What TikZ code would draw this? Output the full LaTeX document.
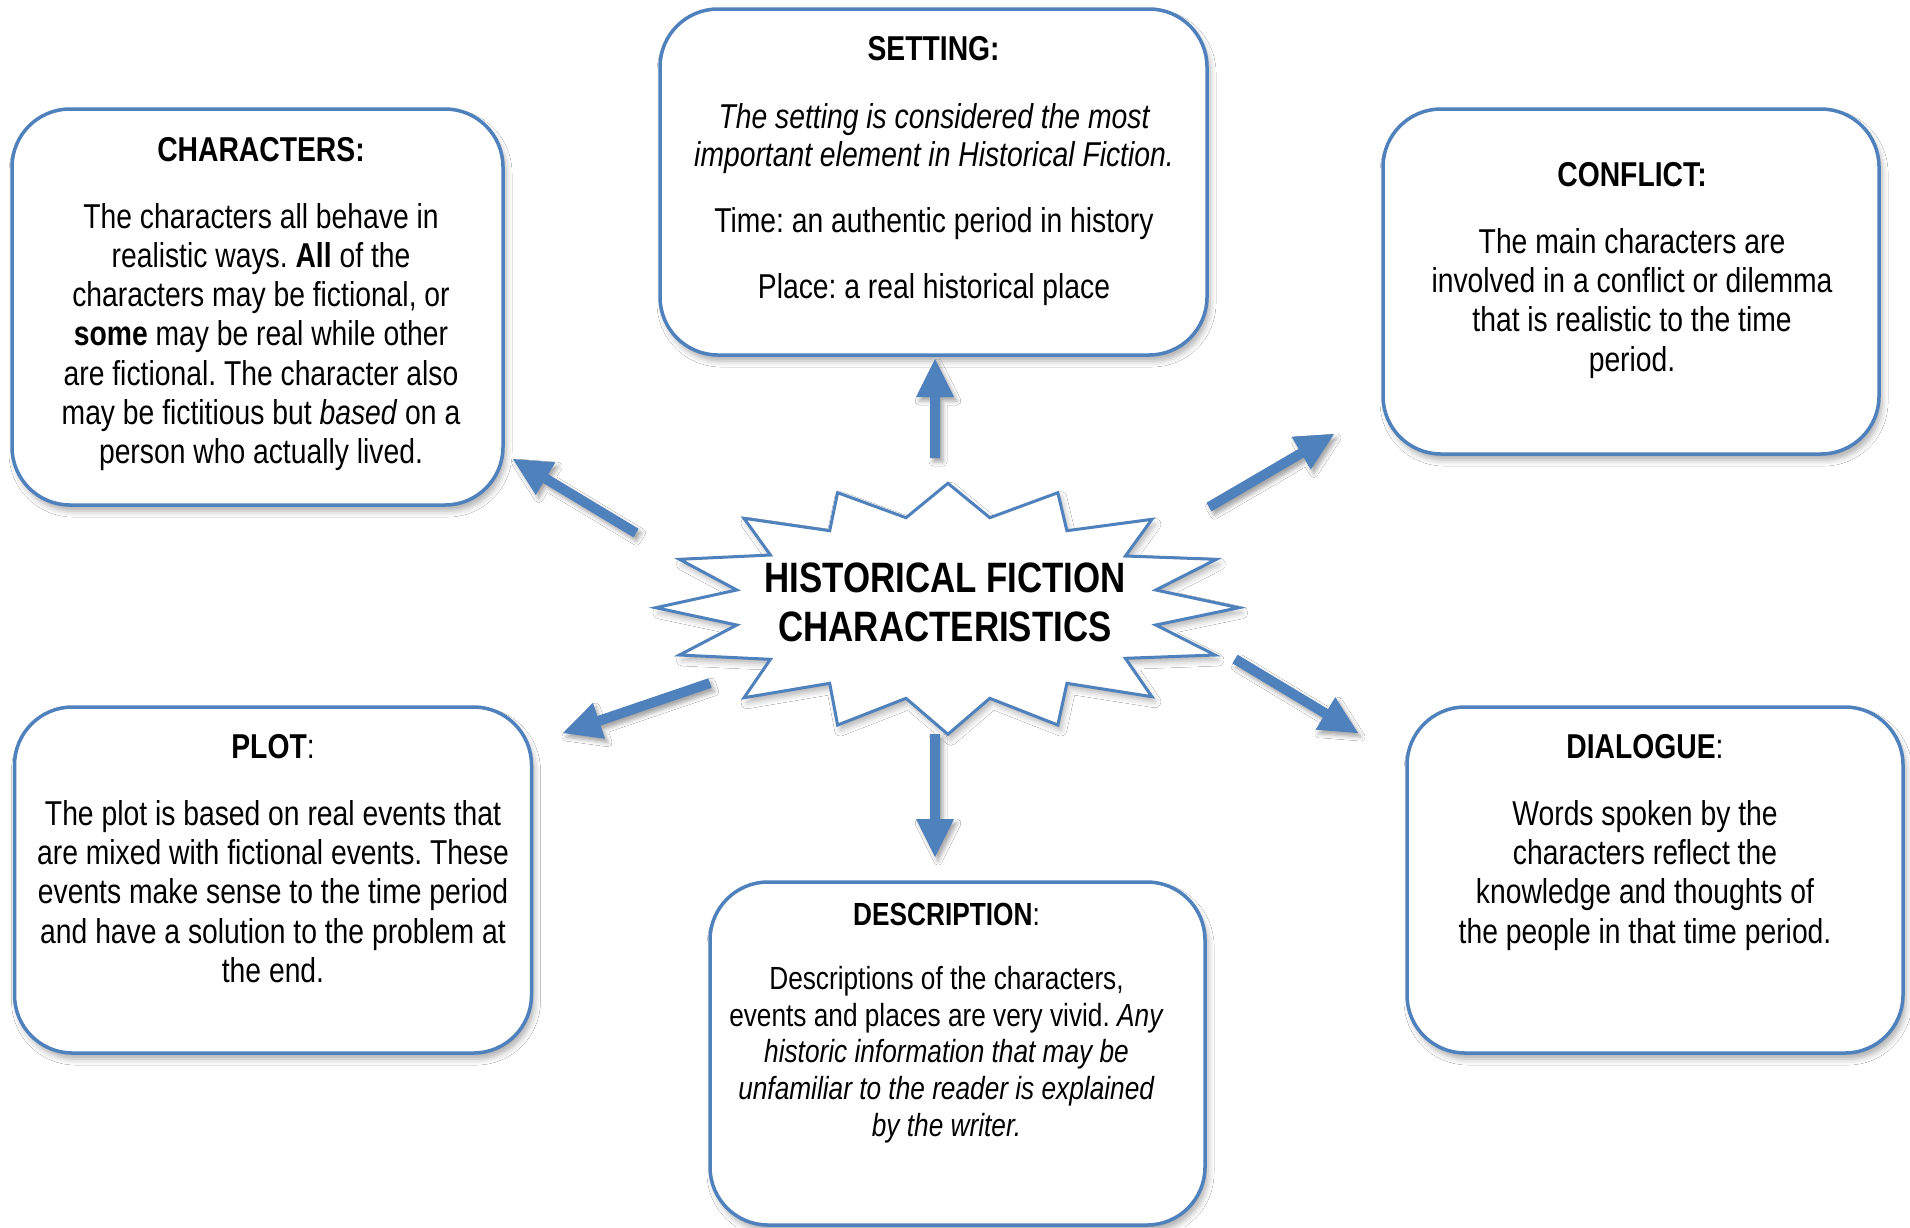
\documentclass[tikz,border=0pt]{standalone}
\usepackage{fontspec}
\setmainfont{Liberation Sans}[FakeStretch=0.82]
\usetikzlibrary{shadows.blur,calc}
\definecolor{hfblue}{RGB}{79,129,189}
\frenchspacing
\newcommand\fl{\rule{0pt}{30pt}}
\newcommand\fatarrow[3]{%
  \coordinate (#3) at ($(#2)!38pt!(#1)$);
  \fill[arrowfill] ($(#1)!5pt!90:(#2)$) -- ($(#3)!5pt!90:(#2)$) -- ($(#3)!19pt!90:(#2)$) -- (#2)
    -- ($(#3)!19pt!-90:(#2)$) -- ($(#3)!5pt!-90:(#2)$) -- ($(#1)!5pt!-90:(#2)$) -- cycle;}
\tikzset{
  card/.style={draw=hfblue, line width=3.5pt, rounded corners=58pt, fill=white,
    blur shadow={shadow xshift=3pt, shadow yshift=-6pt, shadow blur radius=6pt, shadow opacity=32}},
  titletext/.style={font=\fontsize{34.5}{39.3}\selectfont\bfseries, anchor=base, inner sep=0pt},
  bodytext/.style={font=\fontsize{34.5}{39.3}\selectfont, align=center, anchor=north, inner sep=0pt},
  arrowfill/.style={fill=hfblue, blur shadow={shadow xshift=3pt, shadow yshift=-4pt, shadow blur radius=4pt, shadow opacity=35}},
  starline/.style={draw=hfblue, line width=3pt, fill=white, line join=miter,
    blur shadow={shadow xshift=3pt, shadow yshift=-5pt, shadow blur radius=6pt, shadow opacity=30}}
}
\begin{document}
\begin{tikzpicture}[x=1pt, y=-1pt]
\useasboundingbox[fill=white] (0,0) rectangle (1910,1227);

% boxes
\node[card, minimum width=491pt, minimum height=396pt] (charbox) at (257.5,307) {};
\node[card, minimum width=547pt, minimum height=346pt] (setbox) at (933.5,182) {};
\node[card, minimum width=496pt, minimum height=345pt] (confbox) at (1631,281.5) {};
\node[card, minimum width=517pt, minimum height=346pt] (plotbox) at (273,880) {};
\node[card, minimum width=495pt, minimum height=343pt] (descbox) at (957.5,1053.5) {};
\node[card, minimum width=496pt, minimum height=346pt] (dialbox) at (1655,880) {};

% star
\draw[starline] (947.9,483.3) -- (989.8,517.7) -- (1057.8,492.7) -- (1066.9,530.7) -- (1151.9,519.3)
 -- (1125.4,556) -- (1216.3,559.3) -- (1155.8,590) -- (1238.8,607.7) -- (1155.8,625) -- (1215.1,655)
 -- (1125.4,658.3) -- (1151.9,696.7) -- (1066.9,683.3) -- (1057.8,725) -- (989.8,698.3) -- (947.9,734.3)
 -- (906,698.3) -- (837.6,725) -- (829.7,683.3) -- (744,697.7) -- (770.4,659.3) -- (679.5,655)
 -- (736.8,625) -- (655.8,607.7) -- (736.8,590) -- (679.5,559.3) -- (770.4,555) -- (744,518.3)
 -- (829.7,530.7) -- (837.6,492.7) -- (906,517.7) -- cycle;
\node[font=\fontsize{42.5}{49}\selectfont\bfseries, align=center, anchor=north, inner sep=0pt] (hf)
  at (945,558) {\rule{0pt}{34pt}HISTORICAL FICTION\\CHARACTERISTICS};

% CHARACTERS
\node[titletext] (chart) at (261,161) {CHARACTERS:};
\node[bodytext, font=\fontsize{34.5}{39.2}\selectfont] (charb) at (261,198) {\fl The characters all behave in\\realistic ways. \textbf{All} of the\\characters may be fictional, or\\\textbf{some} may be real while other\\are fictional. The character also\\may be fictitious but \textit{based} on a\\person who actually lived.};

% SETTING
\node[titletext] (sett) at (933.6,60.7) {SETTING:};
\node[bodytext, font=\fontsize{34.5}{38}\selectfont\itshape] (setb) at (934,98) {\fl The setting is considered the most\\important element in Historical Fiction.};
\node[titletext, font=\fontsize{34.5}{39.3}\selectfont] (settime) at (934,232) {Time: an authentic period in history};
\node[titletext, font=\fontsize{34.5}{39.3}\selectfont] (setplace) at (934,298) {Place: a real historical place};

% CONFLICT
\node[titletext] (conft) at (1632,186) {CONFLICT:};
\node[bodytext] (confb) at (1632,223) {\fl The main characters are\\involved in a conflict or dilemma\\that is realistic to the time\\period.};

% PLOT
\node[titletext] (plott) at (273,758) {PLOT\textmd{:}};
\node[bodytext] (plotb) at (273,795) {\fl The plot is based on real events that\\are mixed with fictional events. These\\events make sense to the time period\\and have a solution to the problem at\\the end.};

% DESCRIPTION
\node[titletext, font=\fontsize{32}{36.7}\selectfont\bfseries] (desct) at (946.5,925.7) {DESCRIPTION\textmd{:}};
\node[bodytext, font=\fontsize{32}{36.7}\selectfont] (descb) at (946.5,961.3) {\rule{0pt}{28pt}Descriptions of the characters,\\events and places are very vivid. \textit{Any}\\\textit{historic information that may be}\\\textit{unfamiliar to the reader is explained}\\\textit{by the writer.}};

% DIALOGUE
\node[titletext] (dialt) at (1645,758.3) {DIALOGUE\textmd{:}};
\node[bodytext] (dialb) at (1645,795) {\fl Words spoken by the\\characters reflect the\\knowledge and thoughts of\\the people in that time period.};

% arrows
\coordinate (aUpT) at (935,458);   \coordinate (aUpH) at (935,359);
\coordinate (aULT) at (636,533);   \coordinate (aULH) at (513,459);
\coordinate (aURT) at (1209,507);  \coordinate (aURH) at (1334,434);
\coordinate (aDLT) at (710,683);   \coordinate (aDLH) at (563,733);
\coordinate (aDRT) at (1235,659);  \coordinate (aDRH) at (1358,733);
\coordinate (aDnT) at (935,734);   \coordinate (aDnH) at (935,857);
\fatarrow{aUpT}{aUpH}{aUpB}
\fatarrow{aULT}{aULH}{aULB}
\fatarrow{aURT}{aURH}{aURB}
\fatarrow{aDLT}{aDLH}{aDLB}
\fatarrow{aDRT}{aDRH}{aDRB}
\fatarrow{aDnT}{aDnH}{aDnB}
\end{tikzpicture}
\end{document}
